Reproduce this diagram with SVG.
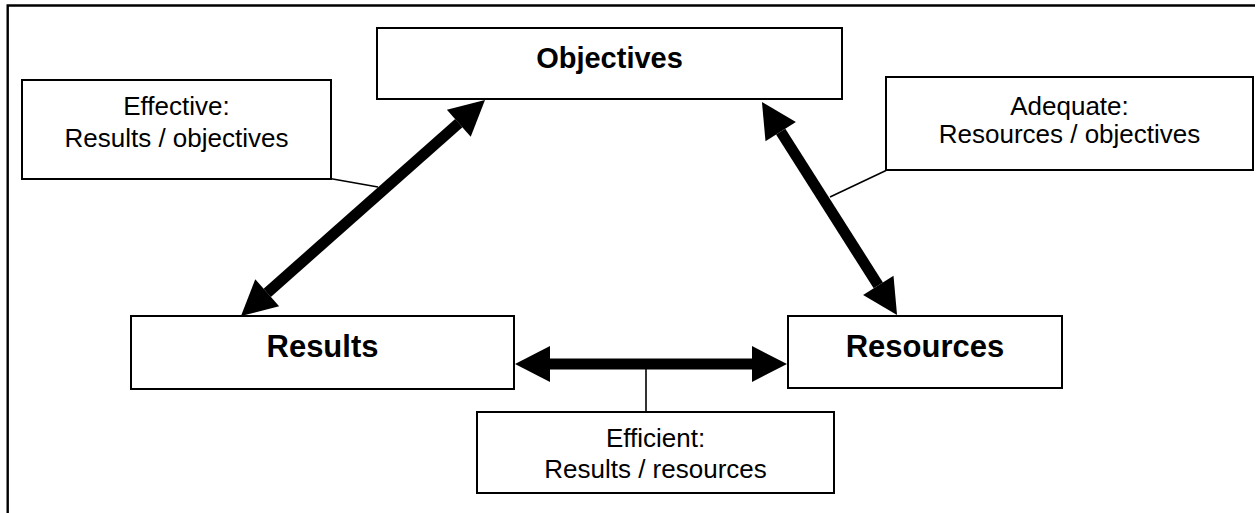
<svg xmlns="http://www.w3.org/2000/svg" width="1256" height="513" viewBox="0 0 1256 513">
<style>
.box{fill:#fff;stroke:#000;stroke-width:2}
.lbl{font-family:"Liberation Sans",Arial,sans-serif;font-size:26px;fill:#000;text-anchor:middle}
.big{font-family:"Liberation Sans",Arial,sans-serif;font-weight:bold;fill:#000;text-anchor:middle}
.shaft{stroke:#000;stroke-width:11;fill:none;marker-start:url(#head);marker-end:url(#head)}
.lead{stroke:#000;stroke-width:1.6;fill:none}
</style>
<defs>
<marker id="head" markerUnits="userSpaceOnUse" markerWidth="35" markerHeight="36" refX="0" refY="18" orient="auto-start-reverse" overflow="visible">
<path d="M0,0 L35,18 L0,36 z" fill="#000"/>
</marker>
</defs>
<rect width="1256" height="513" fill="#fff"/>
<g id="frame">
<path d="M7.7,513 V5.5 H1255" fill="none" stroke="#000" stroke-width="2.4"/>
</g>
<g id="connectors">
<line class="lead" x1="330" y1="178.5" x2="378" y2="187"/>
<line class="lead" x1="886" y1="170.5" x2="830" y2="197"/>
<line class="lead" x1="646" y1="364" x2="646" y2="412"/>
<line class="shaft" x1="458.8" y1="123.2" x2="267.2" y2="292.8"/>
<line class="shaft" x1="780.7" y1="131.6" x2="878.3" y2="285.4"/>
<line class="shaft" x1="550" y1="364" x2="752" y2="364"/>
</g>
<g id="objectives">
<rect class="box" x="377" y="28" width="465" height="71"/>
<text class="big" x="609.5" y="68" font-size="29">Objectives</text>
</g>
<g id="results">
<rect class="box" x="131" y="316" width="383" height="73"/>
<text class="big" x="322.5" y="357" font-size="31">Results</text>
</g>
<g id="resources">
<rect class="box" x="788" y="316" width="274" height="72"/>
<text class="big" x="925" y="357" font-size="31">Resources</text>
</g>
<g id="effective">
<rect class="box" x="22" y="80" width="309" height="99"/>
<text class="lbl" x="176.5" y="115">Effective:</text>
<text class="lbl" x="176.5" y="147">Results / objectives</text>
</g>
<g id="adequate">
<rect class="box" x="886" y="77" width="367" height="93"/>
<text class="lbl" x="1069.5" y="115">Adequate:</text>
<text class="lbl" x="1069.5" y="143">Resources / objectives</text>
</g>
<g id="efficient">
<rect class="box" x="477" y="412" width="357" height="81"/>
<text class="lbl" x="655.5" y="447">Efficient:</text>
<text class="lbl" x="655.5" y="478">Results / resources</text>
</g>
</svg>
